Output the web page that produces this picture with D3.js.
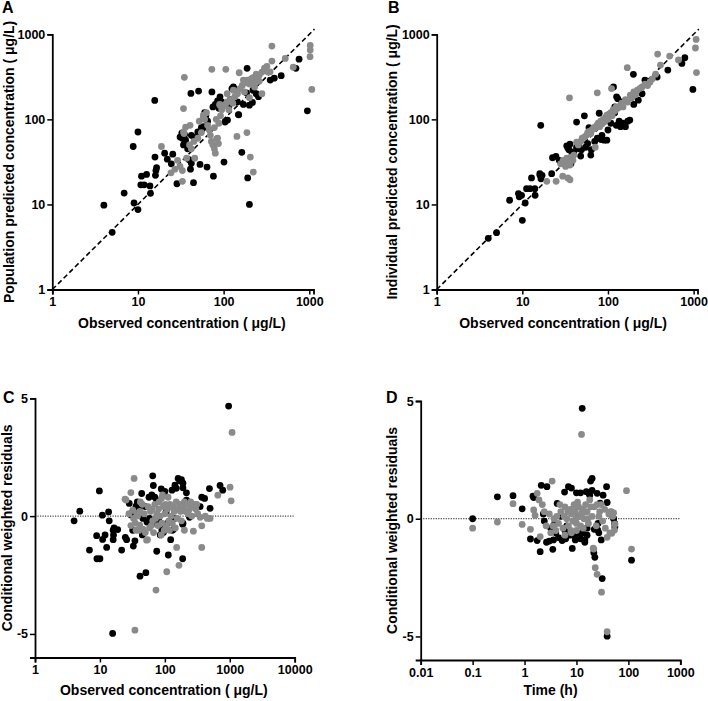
<!DOCTYPE html>
<html><head><meta charset="utf-8">
<script src="https://cdn.jsdelivr.net/npm/d3@7"></script>
<style>
html,body{margin:0;padding:0;background:#fff;}
svg text{font-family:"Liberation Sans",Arial,Helvetica,sans-serif;font-weight:bold;fill:#000;}
</style></head>
<body>
<svg id="chart" width="708" height="701"></svg>
<script>
// ---------- DATA ----------
const concTicks = [1, 10, 100, 1000];
const concTicksC = [1, 10, 100, 1000, 10000];
const timeTicks = [0.01, 0.1, 1, 10, 100, 1000];
const cwresTicks = [-5, 0, 5];

// Panel A: observed vs population predicted
const popPredBlack = [[4,9.8],[5,4.7],[6.9,13.6],[8.8,48],[9,10.4],[10,71],[10,8.7],[10.8,17],[11,21.5],[11.8,17],[12.6,22.5],[13.8,16.5],[14,13.5],[15.7,167],[15.8,36],[16,22],[16.2,25],[16.5,27],[20.5,40],[22,34],[25.5,39],[24.5,30],[28.5,17.5],[32.5,69],[31,62],[33,60],[34,50],[35,66],[35,52],[36,57],[38,45],[39.5,33.5],[42,30.5],[41,26],[44.5,18],[41.5,202],[51,215],[53,29.5],[42,65],[45,62],[50,71],[55,80],[57,78],[58,82],[60,120],[64,27.5],[73,210],[76,21.5],[75,140],[80,150],[85,165],[90.7,184],[95,160],[101,31.5],[104,93],[111,98],[115,140],[120,170],[125,230],[130,240],[135,225],[145,160],[149,114],[150,113],[163,41],[170,150],[185,205],[188,398],[191,20.5],[200,10],[200,147],[217,158],[220,220],[240,200],[255,185],[350,290],[390,305],[470,326],[698,398],[760,510],[950,126],[88,135],[65,95],[62,110]];
const popPredGray = [[18.8,48],[24.3,23.5],[27,26],[29,33],[31,28],[33,25],[33,18.7],[34.8,312],[34,134],[34,71],[36,81],[34.5,68],[37,35],[40.6,85],[42,45],[46,35],[40,50],[45,55],[50,60],[52,95],[55,70],[58,112],[58,105],[60,100],[63,120],[65,85],[68,75],[70,65],[72,55],[72.8,387],[75,50],[78,45],[78,80],[80,40],[82,100],[83,59],[85,60],[87,52],[88,90],[90.7,147],[90,150],[92,110],[95,130],[100,145],[105,150],[106,387],[110,160],[110,200],[115,130],[120,170],[128,155],[130,220],[135,185],[143,211],[143,63],[145,200],[152,353],[155,230],[165,250],[170,290],[175,210],[185,270],[187,70],[190,290],[200,260],[200,180],[205,36],[210,300],[220,310],[222,24],[224,275],[230,240],[240,340],[250,300],[260,330],[260,280],[280,360],[280,200],[300,400],[320,420],[330,360],[349,362],[366,728],[366,484],[524,521],[650,410],[1025,740],[1025,653],[1020,545],[1070,225]];

// Panel B: observed vs individual predicted
const indPredBlack = [[4,4],[5,4.65],[7.1,11.2],[9,13.4],[9.2,12.3],[9.8,12.8],[10,6.5],[10.8,10.4],[11.2,15.3],[12.3,15.3],[12.8,20.5],[14,15.3],[14.1,12.8],[16.4,85],[16.1,22],[16.5,20],[17,22],[16,23],[22,23],[22.5,35.4],[24.7,36.8],[27,33],[28,32],[33,48.8],[34,46],[36,51],[35,44],[38,40],[40,41.5],[43,93],[43,47],[46,45],[49,44],[48,37],[53,110],[55,47],[58,52],[63,38],[64,44],[70,55],[75,60],[79,118],[83,58],[85,65],[90,57],[97,57],[100,75],[108,90],[116,240],[120,120],[126,184],[125,85],[135,95],[140,82],[150,90],[160,82],[170,95],[180,98],[130,175],[145,160],[198,338],[200,150],[226,168],[250,200],[270,290],[375,315],[500,380],[730,455],[790,530],[980,225],[120,140],[90,100],[60,80],[37,30]];
const indPredGray = [[19.3,18.7],[24.8,18.7],[29.6,21.5],[34,20.5],[36,19.5],[28,30],[30,33],[32,28],[33,35],[35,31],[36,29],[37,36],[39,33],[40,38],[43,54],[45,50],[48,55],[50,60],[53,62],[56,65],[58,70],[60,72],[63,68],[65,75],[68,80],[71,47],[70,78],[74,85],[77,90],[80,82],[82,95],[85,88],[88,100],[90,93],[93,105],[97,112],[100,100],[103,115],[108,120],[112,110],[115,130],[120,125],[125,140],[130,135],[140,147],[145,155],[150,140],[160,170],[170,160],[182,193],[190,180],[200,210],[210,195],[220,220],[237,232],[250,240],[270,260],[290,250],[310,275],[330,300],[360,340],[410,435],[35.5,179],[75,205],[110,230],[168,405],[380,585],[525,555],[665,500],[1070,870],[1050,690],[1080,355]];

// Panel C: observed vs CWRES
const cwresConcBlack = [[4,-0.2],[4.9,0.21],[6.9,-1.44],[8.9,-0.83],[9,-1.81],[10,-1.81],[9.8,1.07],[10.9,0.04],[11,-0.99],[12,-0.8],[12.7,-1.33],[13.6,0.18],[13.9,-0.2],[16,-0.6],[16.2,-0.8],[16,-1.0],[16.5,-0.5],[15.7,-4.98],[18.8,-0.57],[21.6,-1.44],[24.6,-0.9],[25.8,-1.0],[28.3,0.54],[32,-0.6],[32,0.14],[32.7,-1.27],[34.6,-1.05],[36,0.42],[37.7,0.6],[41.4,-2.55],[44,0.96],[44,-0.6],[46,-0.1],[50,0.4],[51,-2.4],[53,-0.25],[57,0.8],[63,0.9],[65,1.71],[66.5,1.3],[70,0.8],[70,-0.3],[75,-1.49],[75,0.68],[85,-0.8],[88,1.15],[90,-0.6],[95,-0.7],[95,1.0],[100,1.05],[100,-0.5],[113,-1.65],[123,-1.0],[129,1.1],[130,-0.6],[135,-0.57],[143,1.31],[150,1.18],[160,1.6],[170,1.5],[180,1.55],[188,-1.81],[188,-0.35],[190,1.2],[190,1.4],[190,-0.3],[215,0.99],[215,0.68],[228,0.6],[350,0.4],[370,0.8],[410,0.75],[486,1.17],[497,0.33],[708,1.3],[780,1.1],[960,4.67],[30,0.05],[40,0.3],[58,-0.1],[80,-0.15],[110,-0.3],[140,-0.1],[240,-0.05],[45,-0.8],[105,0.2]];
const cwresConcGray = [[25.3,0.68],[24.4,0.72],[30,1.0],[33.6,1.6],[32,0.25],[33,-0.1],[35,-0.3],[36,-0.6],[37,0.1],[38,0.0],[41,-0.38],[41,0.2],[46,-0.55],[50,-0.7],[52.3,-1.02],[54,-1.0],[34.6,-4.84],[60,0.2],[63,0.3],[65,-0.2],[70,0.5],[73,-3.14],[75,0.1],[78,-0.4],[80,0.3],[85,0.0],[89,0.76],[90,-0.3],[95,0.4],[100,0.1],[105,-0.4],[107,-2.36],[110,0.3],[115,-0.2],[120,0.5],[125,0.0],[130,-0.3],[135,0.4],[140,0.2],[150,0.6],[152,-1.33],[155,-0.1],[160,0.3],[165,-2.09],[170,0.5],[180,-0.2],[190,0.4],[200,0.6],[210,0.2],[220,0.5],[240,0.3],[250,0.6],[260,0.0],[275,-0.64],[280,0.5],[300,0.3],[320,0.1],[350,-0.05],[370,-0.41],[370,-1.33],[420,0.0],[497,-0.1],[450,-0.1],[655,0.89],[1010,1.23],[1050,0.65],[1084,3.55],[58,-0.5],[45,0.5],[67,-0.7],[88,-0.8],[118,-0.6],[200,-0.6],[42,0.6],[48,0.1],[55,0.4],[62,-0.4],[72,-0.1],[82,0.6],[92,0.9],[98,-0.6],[102,0.5],[112,0.8],[125,0.4],[145,-0.5],[175,0.2],[230,0.1],[265,0.4],[310,0.5],[40,-0.6],[30,-0.4],[28,0.1]];

// Panel D: time vs CWRES
const cwresTimeBlack = [[0.1,0],[0.3,0.93],[0.6,0.98],[0.9,0.42],[1.3,-0.86],[1.45,0.96],[1.5,0.9],[1.75,-0.93],[2.0,-1.4],[2.1,1.42],[2.3,0.2],[2.4,-0.1],[2.65,-1.0],[2.7,1.36],[3.0,-0.95],[3.5,-1.3],[3.6,-0.9],[3.8,-0.2],[4.0,-0.6],[4.25,0.65],[4.5,-0.8],[5.3,-0.93],[5.9,1.13],[6,-0.5],[7,1.36],[7.5,-0.7],[8,1.3],[8.3,-1.26],[8.5,-0.6],[9,-0.7],[10,1.1],[10.5,-0.6],[11,-0.75],[12,1.1],[12.9,4.69],[13,-0.6],[14.5,-0.9],[14.5,-1.0],[15.5,1.15],[17,1.1],[18.7,1.6],[20,1.71],[20,1.2],[21.6,-1.44],[22.6,-1.64],[22,-0.45],[25,1.08],[25.7,-0.48],[27,-0.6],[28.5,0.66],[31.3,-2.54],[32.6,1.0],[38,1.36],[39,0.69],[39,-4.99],[50,0.1],[52,0.0],[54.6,-0.2],[55,-0.35],[115,-1.76],[6.5,-0.3],[5,0.1],[16,-0.4],[6.2,-0.85],[9.5,-0.9],[12,-0.85],[16,-0.7],[18,1.0],[26,-0.2],[30,-0.9],[45,0.2],[3.2,-0.4],[11,0.1]];
const cwresTimeGray = [[0.1,-0.4],[0.3,-0.14],[0.6,0.64],[0.9,-0.24],[1.3,-0.45],[1.5,0.37],[1.6,0.14],[1.75,1.08],[1.9,0.8],[2.0,-0.76],[2.2,0.6],[2.4,0.3],[2.6,-0.3],[3.0,0.2],[3.4,1.6],[3.5,-0.3],[3.7,0.0],[4,-0.5],[4.2,0.1],[4.5,-0.2],[5,0.3],[5.5,-0.4],[6,0.5],[6.5,0.0],[7,-0.3],[7.5,0.4],[8,0.2],[8.5,-0.1],[9,0.6],[9.5,0.3],[10,-0.2],[11,0.5],[11.5,0.1],[12,-0.3],[12.5,3.58],[13,0.4],[14,0.0],[15,0.6],[16,0.3],[17,-0.2],[18,0.8],[19,0.5],[20,0.1],[21,-1.25],[21.6,-1.29],[23,-2.08],[25,-2.36],[25,0.6],[28,0.3],[30.4,-3.12],[32,-0.1],[35,0.4],[39,-4.8],[39,-0.79],[45,0.3],[47,0.3],[48,-0.62],[50,0.1],[54,-0.48],[55,-0.23],[92,1.19],[115,-1.29],[8,-0.6],[6,-0.7],[10,-0.5],[3.2,-0.6],[4.8,0.6],[5.8,0.1],[6.8,0.3],[7.8,-0.5],[8.8,0.4],[9.8,0.0],[10.5,0.7],[12.5,0.2],[13.5,-0.4],[14.5,0.3],[16.5,0.0],[22,0.5],[24,-0.3],[27,0.1],[30,0.6],[36,-0.4],[42,0.2],[52,0.25],[44,-0.6]];

// ---------- DRAW ----------
const svg = d3.select("#chart");
const BLACK = "#000000", GRAY = "#8a8a8a";
const R = 3.4;

function panel(o) {
  const g = svg.append("g");
  const x = d3.scaleLog().domain(o.xDomain).range(o.xRange);
  const y = (o.yLog ? d3.scaleLog() : d3.scaleLinear()).domain(o.yDomain).range(o.yRange);
  const fmt = d => String(d);

  const xa = g.append("g").attr("transform", `translate(0,${o.yRange[0]})`)
    .call(d3.axisBottom(x).tickValues(o.xTicks).tickFormat(fmt).tickSizeOuter(0).tickSize(5).tickPadding(3));
  const ya = g.append("g").attr("transform", `translate(${o.xRange[0]},0)`)
    .call(d3.axisLeft(y).tickValues(o.yTicks).tickFormat(fmt).tickSizeOuter(0).tickSize(5).tickPadding(2));
  [xa, ya].forEach(a => {
    a.select(".domain").attr("stroke", "#000").attr("stroke-width", 1.8);
    a.selectAll(".tick line").attr("stroke", "#000").attr("stroke-width", 1.5);
    a.selectAll(".tick text").style("font-size", "12.5px");
  });

  if (o.identity) {
    const lo = o.identity[0], hi = o.identity[1];
    g.append("line").attr("x1", x(lo)).attr("y1", y(lo)).attr("x2", x(hi)).attr("y2", y(hi))
      .attr("stroke", "#000").attr("stroke-width", 1.6).attr("stroke-dasharray", "5,3");
  }
  if (o.zeroLine) {
    g.append("line").attr("x1", o.xRange[0]).attr("x2", o.xRange[1]).attr("y1", y(0)).attr("y2", y(0))
      .attr("stroke", "#000").attr("stroke-width", 0.9).attr("stroke-dasharray", "1.2,1.3");
  }

  const pts = g.append("g");
  pts.selectAll("circle.b").data(o.black).enter().append("circle").attr("class", "b")
    .attr("cx", d => x(d[0])).attr("cy", d => y(d[1])).attr("r", R).attr("fill", BLACK);
  pts.selectAll("circle.g").data(o.gray).enter().append("circle").attr("class", "g")
    .attr("cx", d => x(d[0])).attr("cy", d => y(d[1])).attr("r", R).attr("fill", GRAY);

  g.append("text").attr("x", o.letterPos[0]).attr("y", o.letterPos[1]).style("font-size", "16px").text(o.letter);
  g.append("text").attr("x", (o.xRange[0] + o.xRange[1]) / 2 + (o.xTitleDx || 0)).attr("y", o.xTitleY)
    .attr("text-anchor", "middle").style("font-size", "14px").text(o.xTitle);
  g.append("text").attr("transform", `translate(${o.yTitleX},${(o.yRange[0] + o.yRange[1]) / 2}) rotate(-90)`)
    .attr("text-anchor", "middle").style("font-size", "14px").text(o.yTitle);
}

panel({
  xDomain: [1, 1120], xRange: [52.3, 313.5], yLog: true, yDomain: [1, 1000], yRange: [289.5, 34.3],
  xTicks: concTicks, yTicks: concTicks, identity: [1, 1150],
  black: popPredBlack, gray: popPredGray,
  letter: "A", letterPos: [2, 13],
  xTitle: "Observed concentration ( \u03bcg/L)", xTitleY: 328, xTitleDx: -1,
  yTitle: "Population predicted concentration ( \u03bcg/L)", yTitleX: 14
});
panel({
  xDomain: [1, 1110], xRange: [436.7, 697.5], yLog: true, yDomain: [1, 1000], yRange: [289.5, 34.3],
  xTicks: concTicks, yTicks: concTicks, identity: [1, 1150],
  black: indPredBlack, gray: indPredGray,
  letter: "B", letterPos: [388, 13],
  xTitle: "Observed concentration ( \u03bcg/L)", xTitleY: 328, xTitleDx: -4,
  yTitle: "Individual predicted concentration ( \u03bcg/L)", yTitleX: 397
});
panel({
  xDomain: [1, 10000], xRange: [35, 294.7], yLog: false, yDomain: [-6, 5], yRange: [657.5, 398.3],
  xTicks: concTicksC, yTicks: cwresTicks, zeroLine: true,
  black: cwresConcBlack, gray: cwresConcGray,
  letter: "C", letterPos: [3, 403],
  xTitle: "Observed concentration (  \u03bcg/L)", xTitleY: 695, xTitleDx: -1,
  yTitle: "Conditional weighted residuals", yTitleX: 12
});
panel({
  xDomain: [0.01, 1000], xRange: [420.7, 680.3], yLog: false, yDomain: [-6, 5], yRange: [660, 401],
  xTicks: timeTicks, yTicks: cwresTicks, zeroLine: true,
  black: cwresTimeBlack, gray: cwresTimeGray,
  letter: "D", letterPos: [386, 403],
  xTitle: "Time (h)", xTitleY: 695, xTitleDx: 0,
  yTitle: "Conditional weighted residuals", yTitleX: 397
});
</script>
</body></html>
